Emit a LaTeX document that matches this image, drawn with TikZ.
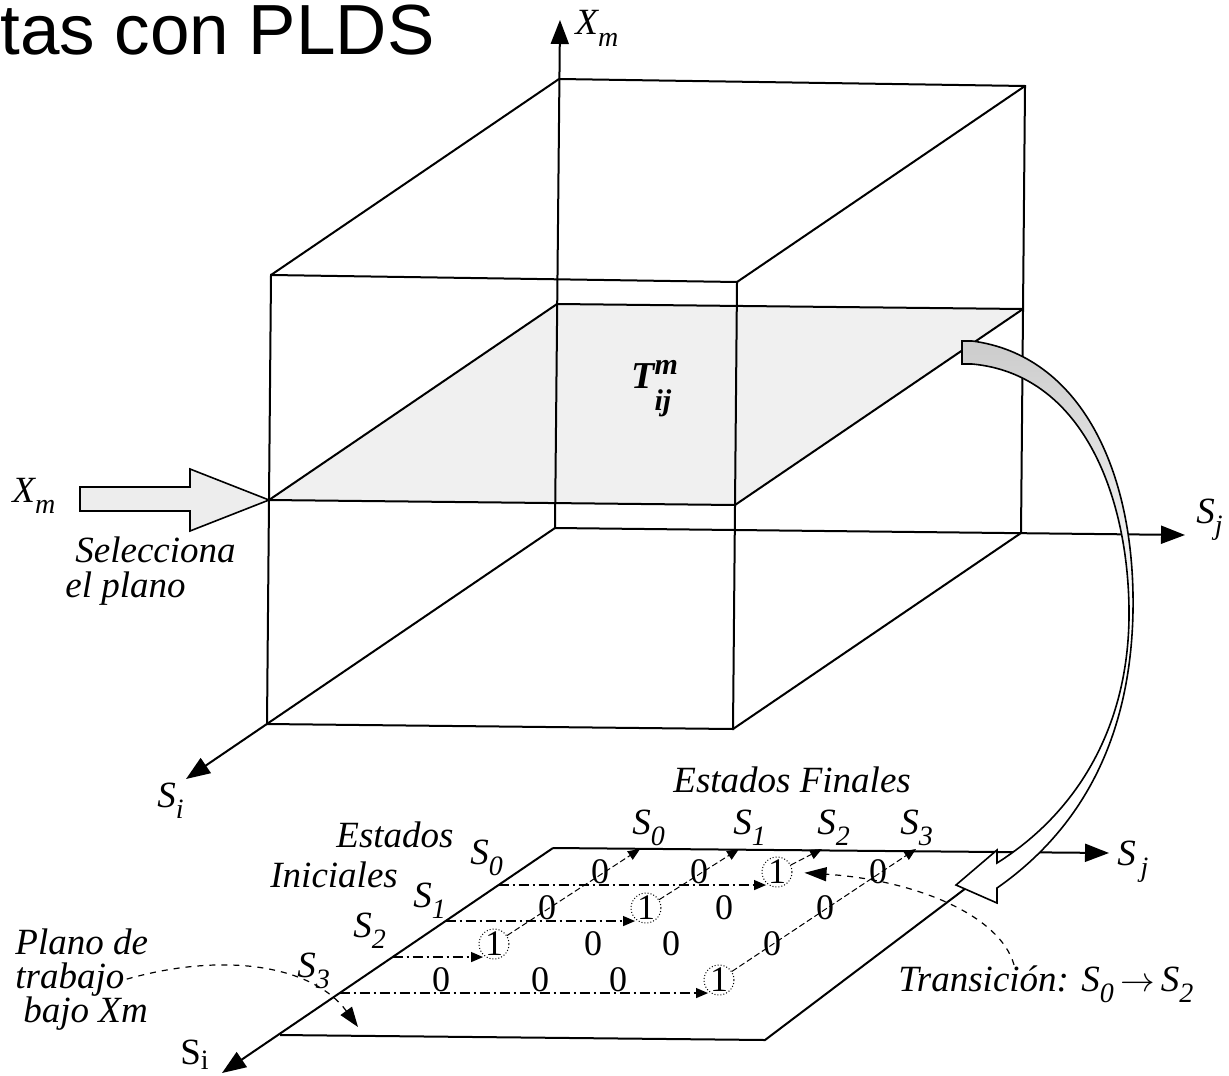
\documentclass[tikz,border=0pt]{standalone}
\usepackage{fontspec}
\setmainfont{Liberation Serif}
\newfontfamily\titlefont{Liberation Sans}
\usetikzlibrary{arrows.meta,calc}
\newcommand{\idx}[2]{\textit{#1}\raisebox{-0.3em}{\fontsize{14}{14}\selectfont\itshape #2}}

\begin{document}
\begin{tikzpicture}[x=0.5pt,y=-0.5pt,
 edge/.style={line width=1pt},
 axis/.style={line width=1pt,-{Triangle[length=12pt,width=9pt]}},
 lbl/.style={font=\fontsize{18.5}{22}\selectfont\itshape,inner sep=0pt,anchor=base west},
 digit/.style={font=\fontsize{18}{20}\selectfont,inner sep=0pt},
 one/.style={digit,draw,densely dotted,line width=0.5pt,circle,minimum size=15pt},
 rowline/.style={line width=0.6pt,dash pattern=on 5pt off 2pt on 1pt off 2pt,-{Triangle[length=6pt,width=5pt]}},
 colline/.style={line width=0.5pt,dash pattern=on 3pt off 1.5pt,-{Triangle[length=6pt,width=5pt]}},
 hollow/.style={line width=0.8pt,fill=black!7}]
\useasboundingbox (0,0) rectangle (1229,1075);
\node[anchor=base west,inner sep=0pt,font=\titlefont\fontsize{35.5}{40}\selectfont] (title) at (0,55) {tas con PLDS};
% cube
\coordinate (FTL) at (271,275); \coordinate (FTR) at (737,282);
\coordinate (FML) at (269,500); \coordinate (FMR) at (735,505);
\coordinate (FBL) at (267,724); \coordinate (FBR) at (733,729);
\coordinate (BTL) at (559,79);  \coordinate (BTR) at (1025,86);
\coordinate (BML) at (557,304); \coordinate (BMR) at (1023,309);
\coordinate (BBL) at (555,528); \coordinate (BBR) at (1021,533);
\coordinate (xmtip) at (560,20); \coordinate (sjtip) at (1185,535);
\coordinate (situp) at (186,779);
\fill[black!6] (FML) -- (BML) -- (BMR) -- (FMR) -- cycle;
\draw[edge] (FTL) -- (FTR) -- (FBR) -- (FBL) -- cycle;
\draw[edge] (FML) -- (FMR);
\draw[edge] (BTL) -- (BTR) -- (BBR);
\draw[edge] (BML) -- (BMR);
\draw[edge] (FTL) -- (BTL) (FTR) -- (BTR) (FML) -- (BML) (FMR) -- (BMR) (FBR) -- (BBR);
\draw[axis] (BBL) -- (xmtip);
\draw[axis] (BBL) -- (sjtip);
\draw[axis] (BBL) -- (situp);
\node[lbl] (xm) at (575,35) {\idx{X}{m}};
\node[lbl] (sj) at (1196,523) {\idx{S}{j}};
\node[lbl] (si) at (157,807) {\idx{S}{i}};
\node[lbl,font=\fontsize{19}{20}\selectfont\bfseries\itshape] (tij) at (631,388)
  {T\makebox[0pt][l]{\raisebox{0.35em}{\fontsize{15}{15}\selectfont m}}\raisebox{-0.6em}{\fontsize{15}{15}\selectfont ij}};
% plane selector
\draw[hollow] (80,487) -- (190,487) -- (190,469) -- (FML) -- (190,531) -- (190,511) -- (80,511) -- cycle;
\node[lbl] (xmin) at (12,502) {\idx{X}{m}};
\node[lbl] (sel) at (75,562) {Selecciona};
\node[lbl] (elpl) at (65,597) {el plano};
% working plane
\coordinate (PTL) at (553,848); \coordinate (PTR) at (1015,851);
\coordinate (PBR) at (765,1040); \coordinate (PBL) at (280,1035);
\coordinate (sjb) at (1109,853); \coordinate (sib) at (222,1073);
\draw[axis] (PTL) -- (sjb);
\draw[axis] (PTL) -- (sib);
\draw[edge] (PBL) -- (PBR) -- (PTR);
\node[lbl] (sjlow) at (1117,865) {\idx{S}{\,j}};
\node[lbl,font=\fontsize{18.5}{22}\selectfont] (silow) at (180,1064) {S\raisebox{-0.15em}{\fontsize{14}{14}\selectfont i}};
\node[lbl] (fin) at (673,792) {Estados Finales};
\foreach \c/\x in {0/632,1/733,2/817,3/900}
  \node[lbl] (f\c) at (\x,834) {\idx{S}{\c}};
\node[lbl] (ini1) at (336,847) {Estados};
\node[lbl] (ini2) at (270,887) {Iniciales};
\foreach \r/\x/\y in {0/470/864,1/413/907,2/353/937,3/297/977}
  \node[lbl] (i\r) at (\x,\y) {\idx{S}{\r}};
% table entries
\foreach \r/\vals in {0/{0,0,1,0},1/{0,1,0,0},2/{1,0,0,0},3/{0,0,0,1}}
  \foreach \v [count=\c from 0] in \vals {
    \pgfmathsetmacro\cx{{600,699,777,878}[\c]-53*\r}
    \pgfmathsetmacro\cy{872+36*\r}
    \ifnum\v=1 \node[one] (c\r\c) at (\cx,\cy) {1};
    \else \node[digit] (c\r\c) at (\cx,\cy) {0};\fi
  };
\foreach \r/\c in {0/2,1/1,2/0,3/3}{
  \pgfmathsetmacro\ry{885+36*\r}
  \coordinate (r\r) at (intersection of PTL--sib and 0,\ry--100,\ry);
  \draw[rowline] (r\r) -- (r\r -| c\r\c.south west);
}
\foreach \c/\r/\x in {0/2/640,1/1/739,2/0/822,3/3/916}{
  \coordinate (t\c) at (\x,849);
  \draw[colline] (c\r\c) -- (t\c);
}
% transfer arrow
\shadedraw[line width=0.8pt,top color=black!20,bottom color=white,middle color=white]
  (962,341) -- (972,341) .. controls (1080,355) and (1135,470) .. (1133,610)
  .. controls (1131,740) and (1080,830) .. (997,888) -- (997,903) -- (956,885)
  -- (997,850) -- (997,863) .. controls (1078,812) and (1130,725) .. (1129,610)
  .. controls (1128,495) and (1082,374) .. (972,364) -- (962,364) -- cycle;
\node[lbl] (trans) at (898,991) {Transición: \idx{S}{0}\,$\rightarrow$\,\idx{S}{2}};
\draw[dashed,line width=0.6pt,-{Triangle[length=11pt,width=7pt]},shorten >=6pt]
  ([xshift=58pt]trans.north west) .. controls (1000,915) and (915,880) .. (c02.east);
\node[lbl] (pl1) at (15,954) {Plano de};
\node[lbl] (pl2) at (15,988) {trabajo};
\node[lbl] (pl3) at (23,1022) {bajo Xm};
\coordinate (ptarget) at (358,1027);
\draw[dashed,line width=0.6pt,-{Triangle[length=10pt,width=7pt]}]
  ([xshift=1pt]pl2.east) .. controls (230,950) and (315,968) .. (ptarget);
\end{tikzpicture}
\end{document}
